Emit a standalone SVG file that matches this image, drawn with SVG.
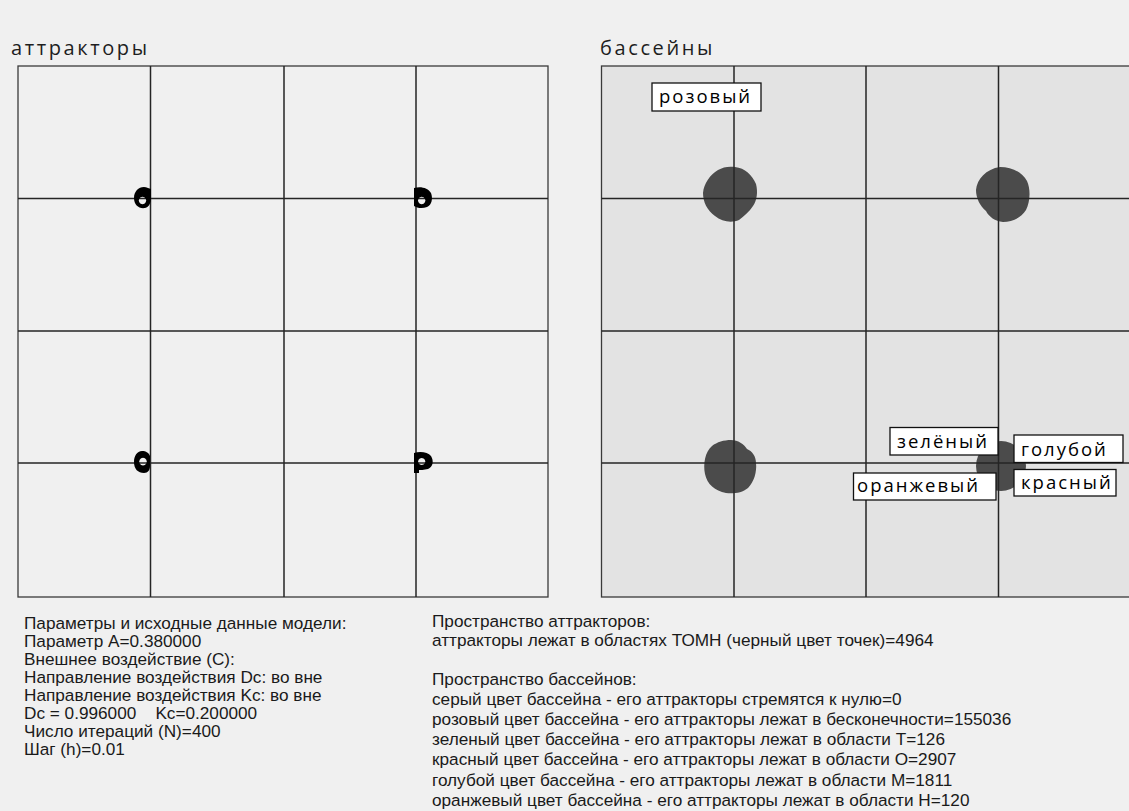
<svg xmlns="http://www.w3.org/2000/svg" width="1129" height="811" viewBox="0 0 1129 811">
<style>
.title{font-family:"Open Sans","DejaVu Sans",sans-serif;font-size:20px;letter-spacing:2.6px;fill:#1e1e1e}
.lbl{font-family:"Open Sans","DejaVu Sans",sans-serif;font-size:18.5px;letter-spacing:2px;fill:#000}
.box{fill:#fff;stroke:#111;stroke-width:1.3}
.grid{stroke:#252525;stroke-width:1.5;fill:none}
.frame{stroke:#3a3a3a;stroke-width:1.3}
.info{font-family:"Liberation Sans",Arial,sans-serif;font-size:17.2px;fill:#1a1a1a}
.blob{fill:#4b4b4b}
.att{fill:#000;fill-rule:evenodd}
</style>
<rect x="0" y="0" width="1129" height="811" fill="#f0f0f0"/>

<g id="attractors-panel">
<text class="title" x="11" y="55">аттракторы</text>
<rect class="frame" x="18" y="66" width="530" height="531" fill="#f0f0f0"/>
<g class="grid">
<line x1="150.5" y1="66" x2="150.5" y2="597"/>
<line x1="284" y1="66" x2="284" y2="597"/>
<line x1="416" y1="66" x2="416" y2="597"/>
<line x1="18" y1="198.5" x2="548" y2="198.5"/>
<line x1="18" y1="331" x2="548" y2="331"/>
<line x1="18" y1="463" x2="548" y2="463"/>
</g>
<g id="attractor-points">
<path class="att" d="M148 188 C141 185 134 190 134 198 C134 205 139 209 145 208 C149 207 151 203 151 198 L151 189 Z M142.5 196.8 a3.7 3.7 0 1 0 0.01 0 Z"/>
<path class="att" d="M414 188 C421 186 428 188 431 193 C433 198 432 205 427 207 C422 209 417 208 414 206 Z M421.7 196.8 a3.7 3.7 0 1 0 0.01 0 Z"/>
<path class="att" d="M142 451 C137 451 134 456 134 462 C134 469 138 473 144 473 C148 473 150 470 150 466 L150 456 C149 453 146 451 142 451 Z M143 457.8 a3.8 3.8 0 1 0 0.01 0 Z"/>
<path class="att" d="M414 453 C420 451 428 452 431 456 C434 461 433 467 428 469 C424 470 420 470 419 470 L419 473 L414 473 Z M421.7 457.9 a3.6 3.6 0 1 0 0.01 0 Z"/>
</g>
</g>

<g id="basins-panel">
<text class="title" x="600" y="55">бассейны</text>
<rect class="frame" x="601.5" y="66" width="540" height="531" fill="#e3e3e3"/>
<g id="basin-blobs">
<path class="blob" d="M735 167 C745 168 752 175 756 184 C758 192 757 200 753 206 C749 212 744 216 739 220 C732 223 722 222 715 216 C707 210 703 202 703 193 C704 183 710 175 718 170 C723 167 729 166 735 167 Z"/>
<path class="blob" d="M1000 167 C1012 167 1022 172 1027 181 C1031 190 1030 202 1026 210 C1021 218 1012 222 1003 222 C995 221 989 217 986 211 C980 206 976 198 976 190 C977 179 986 169 1000 167 Z"/>
<path class="blob" d="M731 440 C738 440 744 444 747 449 C752 451 756 456 756 463 C757 472 754 482 748 488 C742 493 733 494 726 493 C715 491 707 484 705 474 C703 464 705 452 712 446 C717 442 724 440 731 440 Z"/>
<circle class="blob" cx="1001" cy="466" r="25"/>
</g>
<g class="grid">
<line x1="734" y1="66" x2="734" y2="597"/>
<line x1="866" y1="66" x2="866" y2="597"/>
<line x1="998.5" y1="66" x2="998.5" y2="597"/>
<line x1="601.5" y1="198.5" x2="1129" y2="198.5"/>
<line x1="601.5" y1="331" x2="1129" y2="331"/>
<line x1="601.5" y1="463" x2="1129" y2="463"/>
</g>
</g>

<g id="label-pink">
<rect class="box" x="652" y="83" width="109" height="28"/>
<text class="lbl" x="659" y="103">розовый</text>
</g>
<g id="label-green">
<rect class="box" x="890" y="427.5" width="108" height="27.5"/>
<text class="lbl" x="897" y="447.5">зелёный</text>
</g>
<g id="label-blue">
<rect class="box" x="1014" y="435" width="109" height="27.5"/>
<text class="lbl" x="1021" y="456">голубой</text>
</g>
<g id="label-orange">
<rect class="box" x="853.5" y="473" width="142.5" height="27"/>
<text class="lbl" x="857" y="492">оранжевый</text>
</g>
<g id="label-red">
<rect class="box" x="1014" y="469.5" width="102" height="26.5"/>
<text class="lbl" x="1021" y="488.5">красный</text>
</g>

<g id="model-params">
<text class="info" x="24" y="629">Параметры и исходные данные модели:</text>
<text class="info" x="24" y="647">Параметр A=0.380000</text>
<text class="info" x="24" y="665">Внешнее воздействие (C):</text>
<text class="info" x="24" y="683">Направление воздействия Dc: во вне</text>
<text class="info" x="24" y="701">Направление воздействия Kc: во вне</text>
<text class="info" x="24" y="719" xml:space="preserve">Dc = 0.996000    Kc=0.200000</text>
<text class="info" x="24" y="737">Число итераций (N)=400</text>
<text class="info" x="24" y="755">Шаг (h)=0.01</text>
</g>

<g id="results">
<text class="info" x="432" y="627">Пространство аттракторов:</text>
<text class="info" x="432" y="646">аттракторы лежат в областях ТОМН (черный цвет точек)=4964</text>
<text class="info" x="432" y="685">Пространство бассейнов:</text>
<text class="info" x="432" y="705">серый цвет бассейна - его аттракторы стремятся к нулю=0</text>
<text class="info" x="432" y="725">розовый цвет бассейна - его аттракторы лежат в бесконечности=155036</text>
<text class="info" x="432" y="745">зеленый цвет бассейна - его аттракторы лежат в области T=126</text>
<text class="info" x="432" y="765">красный цвет бассейна - его аттракторы лежат в области O=2907</text>
<text class="info" x="432" y="786">голубой цвет бассейна - его аттракторы лежат в области M=1811</text>
<text class="info" x="432" y="806">оранжевый цвет бассейна - его аттракторы лежат в области H=120</text>
</g>
</svg>
